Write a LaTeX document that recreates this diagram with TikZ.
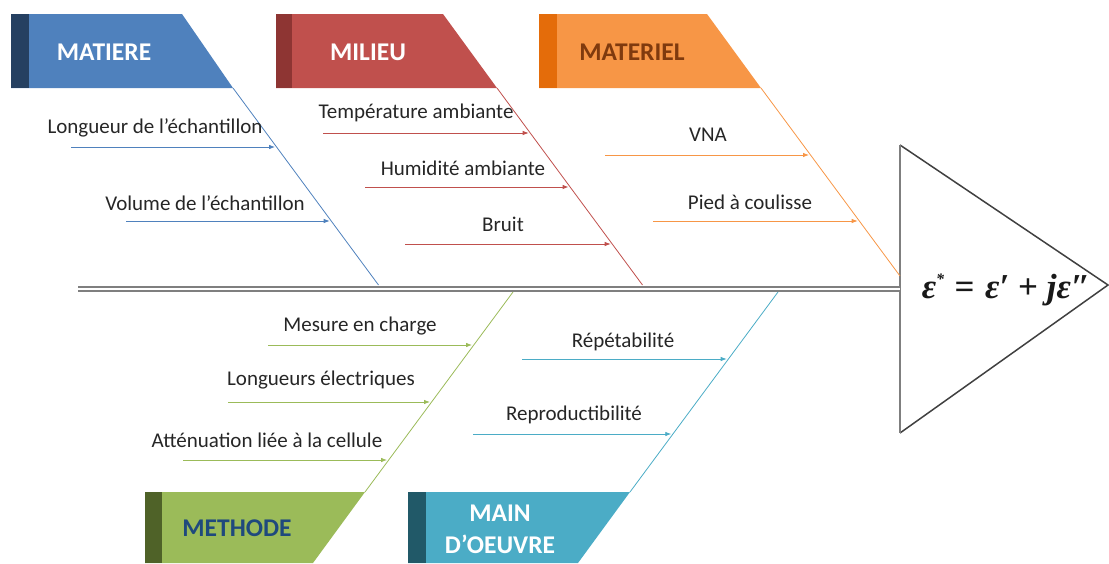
\documentclass[tikz,border=0pt]{standalone}
\usepackage{fontspec}
\setmainfont{Carlito}
\newfontfamily\formfont{Liberation Serif}
\usetikzlibrary{arrows.meta,calc}
\definecolor{matblue}{HTML}{4F81BD}
\definecolor{matbluedk}{HTML}{254061}
\definecolor{milred}{HTML}{C0504D}
\definecolor{milreddk}{HTML}{8E3533}
\definecolor{matorange}{HTML}{F79646}
\definecolor{matorangedk}{HTML}{E46C0A}
\definecolor{orangetext}{HTML}{7F3A0E}
\definecolor{methgreen}{HTML}{9BBB59}
\definecolor{methgreendk}{HTML}{4F6228}
\definecolor{methtext}{HTML}{1F497D}
\definecolor{maincyan}{HTML}{4BACC6}
\definecolor{maincyandk}{HTML}{215968}
\definecolor{spinegray}{HTML}{7F7F7F}

\begin{document}
\begin{tikzpicture}[x=1pt, y=-1pt,
  cause/.style={font=\fontsize{21}{25}\selectfont, text=black!85, inner sep=0pt},
  cat/.style={font=\fontsize{25.5}{30}\selectfont\bfseries, inner sep=0pt, align=center},
  bone/.style={line width=0.8pt},
  arr/.style={line width=0.8pt, -{Latex[length=6pt,width=4.5pt]}, shorten >=1.5pt}
]
  \useasboundingbox (0,0) rectangle (1109,563);

  % category boxes
  \fill[matblue] (11,14) -- (182,14) -- (233,88) -- (11,88) -- cycle;
  \fill[matbluedk] (11,14) rectangle (29,88);
  \node[cat, text=white] (matiere) at (104,52) {MATIERE};

  \fill[milred] (276,14) -- (443,14) -- (497,88) -- (276,88) -- cycle;
  \fill[milreddk] (276,14) rectangle (292,88);
  \node[cat, text=white] (milieu) at (368,52) {MILIEU};

  \fill[matorange] (539,14) -- (707,14) -- (761,88) -- (539,88) -- cycle;
  \fill[matorangedk] (539,14) rectangle (557,88);
  \node[cat, text=orangetext] (materiel) at (632,52) {MATERIEL};

  \fill[methgreen] (145,492) -- (365,492) -- (313,563) -- (145,563) -- cycle;
  \fill[methgreendk] (145,492) rectangle (162,563);
  \node[cat, text=methtext] (methode) at (237,528) {METHODE};

  \fill[maincyan] (408,492) -- (630,492) -- (578,563) -- (408,563) -- cycle;
  \fill[maincyandk] (408,492) rectangle (426,563);
  \node[cat, text=white, font=\fontsize{25.5}{32}\selectfont\bfseries] (mainoeuvre) at (500,529) {MAIN\\D’OEUVRE};

  % head and spine
  \coordinate (headtop) at (900,145);
  \coordinate (headtip) at (1108,285);
  \coordinate (headbot) at (900,433);
  \coordinate (tail) at (78,289);
  \coordinate (neck) at (900,289);
  \draw[black!75, line width=1.5pt, line join=miter] (headtop) -- (headtip) -- (headbot);
  \draw[spinegray, line width=1.6pt] (headtop) -- (headbot);
  \draw[spinegray, line width=1.8pt, double=white, double distance=2.6pt] (tail) -- (neck);
  \node[font=\formfont\fontsize{35}{38}\selectfont\bfseries, text=black!90, inner sep=0pt] (eps) at (1006,290)
    {\itshape ε\raisebox{0.4em}{\fontsize{16}{16}\selectfont *}\hspace{0.3em}\upshape=\hspace{0.3em}\itshape ε′\hspace{0.25em}\upshape+\hspace{0.25em}\itshape jε″};

  % bones
  \coordinate (matbr) at (233,88);   \coordinate (matsp) at (378.5,285);
  \coordinate (milbr) at (497,88);   \coordinate (milsp) at (642.5,285);
  \coordinate (mtlbr) at (761,88);   \coordinate (mtlsp) at (900,276);
  \coordinate (metbr) at (365,492);  \coordinate (metsp) at (513,292);
  \coordinate (mobr) at (630,492);   \coordinate (mosp) at (778,292);
  \draw[bone, matblue] (matbr) -- (matsp);
  \draw[bone, milred] (milbr) -- (milsp);
  \draw[bone, matorange] (mtlbr) -- (mtlsp);
  \draw[bone, methgreen] (metbr) -- (metsp);
  \draw[bone, maincyan] (mobr) -- (mosp);

  % causes
  \coordinate (a1s) at (71,147);   \coordinate (a1e) at (276.6,147);
  \coordinate (a2s) at (126,221);  \coordinate (a2e) at (331.2,221);
  \coordinate (b1s) at (323,133);  \coordinate (b1e) at (530.2,133);
  \coordinate (b2s) at (365,187);  \coordinate (b2e) at (570.1,187);
  \coordinate (b3s) at (405,244);  \coordinate (b3e) at (612.2,244);
  \coordinate (c1s) at (605,155);  \coordinate (c1e) at (810.5,155);
  \coordinate (c2s) at (653,221);  \coordinate (c2e) at (859.2,221);
  \coordinate (d1s) at (268,345);  \coordinate (d1e) at (473.6,345);
  \coordinate (d2s) at (228,402);  \coordinate (d2e) at (431.5,402);
  \coordinate (d3s) at (183,460);  \coordinate (d3e) at (388.6,460);
  \coordinate (e1s) at (522,359);  \coordinate (e1e) at (728.2,359);
  \coordinate (e2s) at (473,434);  \coordinate (e2e) at (672.8,434);

  \draw[arr, matblue] (a1s) -- (a1e);
  \draw[arr, matblue] (a2s) -- (a2e);
  \draw[arr, milred] (b1s) -- (b1e);
  \draw[arr, milred] (b2s) -- (b2e);
  \draw[arr, milred] (b3s) -- (b3e);
  \draw[arr, matorange] (c1s) -- (c1e);
  \draw[arr, matorange] (c2s) -- (c2e);
  \draw[arr, methgreen] (d1s) -- (d1e);
  \draw[arr, methgreen] (d2s) -- (d2e);
  \draw[arr, methgreen] (d3s) -- (d3e);
  \draw[arr, maincyan] (e1s) -- (e1e);
  \draw[arr, maincyan] (e2s) -- (e2e);

  \node[cause] (longueur) at (155,128) {Longueur de l’échantillon};
  \node[cause] (volume) at (205,203) {Volume de l’échantillon};
  \node[cause] (temperature) at (416,113) {Température ambiante};
  \node[cause] (humidite) at (463,168) {Humidité ambiante};
  \node[cause] (bruit) at (503,224) {Bruit};
  \node[cause] (vna) at (708,135) {VNA};
  \node[cause] (pied) at (750,202) {Pied à coulisse};
  \node[cause] (mesure) at (360,326) {Mesure en charge};
  \node[cause] (longelec) at (321,380) {Longueurs électriques};
  \node[cause] (attenuation) at (267,440) {Atténuation liée à la cellule};
  \node[cause] (repet) at (623,342) {Répétabilité};
  \node[cause] (repro) at (574,415) {Reproductibilité};
\end{tikzpicture}
\end{document}
